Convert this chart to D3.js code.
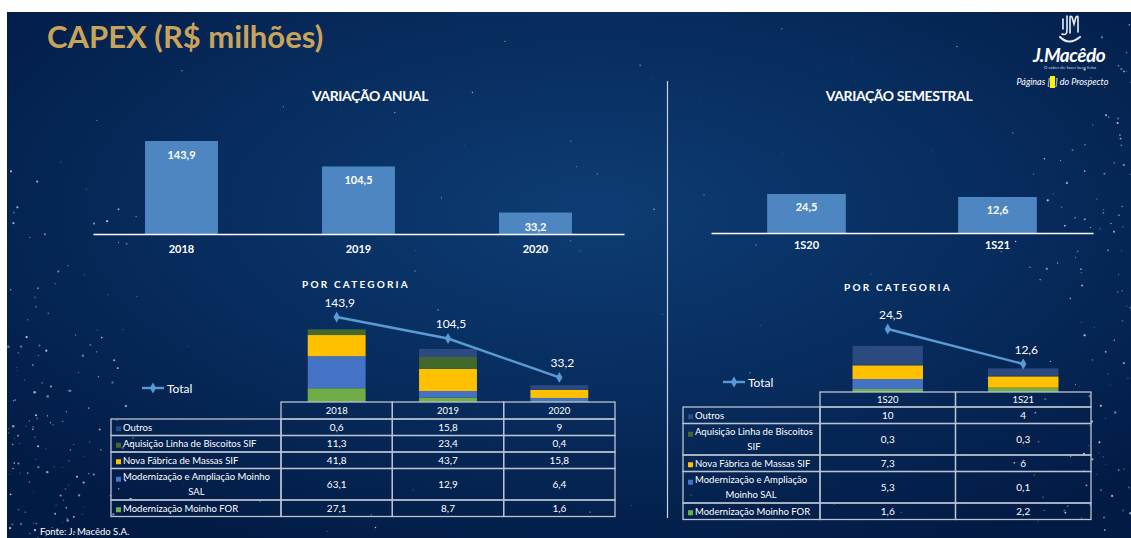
<!DOCTYPE html>
<html>
<head>
<meta charset="utf-8">
<script src="https://cdn.jsdelivr.net/npm/d3@7"></script>
<style>
  body { margin: 0; background: #fff; }
  svg { display: block; }
  text { font-family: Lato, "Open Sans", "Noto Sans", sans-serif; fill: #fff; }
</style>
</head>
<body>
<div id="chart"></div>
<script>
(function(){
    // data ================================================================
    const YEARS        = ['2018', '2019', '2020'];
    const YEAR_TOTALS  = [143.9, 104.5, 33.2];
    const SEMESTERS    = ['1S20', '1S21'];
    const SEM_TOTALS   = [24.5, 12.6];

    const CATEGORIES = ['Outros', 'Aquisição Linha de Biscoitos SIF', 'Nova Fábrica de Massas SIF',
                        'Modernização e Ampliação Moinho SAL', 'Modernização Moinho FOR'];
    const CAT_COLORS = ['#2a4a80', '#43682b', '#ffc000', '#4472c4', '#70ad47'];

    // rows = categories, columns = years / semesters
    const YEAR_VALUES = [[0.6, 15.8, 9], [11.3, 23.4, 0.4], [41.8, 43.7, 15.8], [63.1, 12.9, 6.4], [27.1, 8.7, 1.6]];
    const SEM_VALUES  = [[10, 4], [0.3, 0.3], [7.3, 6], [5.3, 0.1], [1.6, 2.2]];

    // label lines as they wrap in each table
    const YEAR_ROW_LABELS = [['Outros'], ['Aquisição Linha de Biscoitos SIF'], ['Nova Fábrica de Massas SIF'],
                             ['Modernização e Ampliação Moinho', 'SAL'], ['Modernização Moinho FOR']];
    const SEM_ROW_LABELS  = [['Outros'], ['Aquisição Linha de Biscoitos', 'SIF'], ['Nova Fábrica de Massas SIF'],
                             ['Modernização e Ampliação', 'Moinho SAL'], ['Modernização Moinho FOR']];

    // the semestral chart of the original does not start at zero
    const SEM_AXIS_MIN = -130;

    var WIDTH  = 1131,
        HEIGHT = 538;

    var BAR_COLOR  = '#4e86c1',
        LINE_COLOR = '#5b9bd5',
        GRID_COLOR = '#bcc3ce';

    var fmt = function(v){ return String(v).replace('.', ','); };

    var svg = d3.select('#chart').append('svg')
        .attr('width', WIDTH)
        .attr('height', HEIGHT);

    // background --------------------------------------------------------
    var grad = svg.append('defs').append('radialGradient')
        .attr('id', 'bg').attr('cx', '52%').attr('cy', '38%').attr('r', '70%');
    grad.append('stop').attr('offset', '0%').attr('stop-color', '#0d3c74');
    grad.append('stop').attr('offset', '55%').attr('stop-color', '#072b5c');
    grad.append('stop').attr('offset', '100%').attr('stop-color', '#021b45');

    svg.append('rect').attr('width', WIDTH).attr('height', HEIGHT).attr('fill', '#fff');
    svg.append('rect').attr('x', 7).attr('y', 12)
        .attr('width', WIDTH - 7).attr('height', HEIGHT - 12)
        .attr('fill', 'url(#bg)');

    // star dust (decoration only)
    var rnd = d3.randomLcg(11);
    var stars = d3.range(340).map(function(i){
        var r = rnd();
        if (i < 150) return { x: 8 + Math.pow(rnd(), 1.6) * 130, y: 150 + Math.sqrt(rnd()) * 388, r: 0.4 + r * 0.9 };
        if (i < 270) return { x: 985 + Math.sqrt(rnd()) * 146, y: 15 + rnd() * 520, r: 0.4 + r * 0.8 };
        return { x: 8 + rnd() * 1120, y: 15 + rnd() * 520, r: 0.3 + r * 0.5 };
    });
    svg.append('g').attr('class', 'stars')
        .selectAll('circle')
        .data(stars)
        .enter().append('circle')
        .attr('cx', function(d){ return d.x })
        .attr('cy', function(d){ return d.y })
        .attr('r', function(d){ return d.r })
        .attr('fill', '#dfe8f5')
        .attr('opacity', function(d, i){ return 0.35 + (i % 5) * 0.12 });

    // titles ------------------------------------------------------------
    svg.append('text')
        .attr('x', 47).attr('y', 48)
        .style('font-size', '31px').style('font-weight', 700)
        .style('fill', '#c9a35a')
        .text('CAPEX (R$ milhões)');

    svg.append('text').attr('x', 370).attr('y', 101)
        .attr('text-anchor', 'middle')
        .style('font-size', '14px').style('font-weight', 700).style('letter-spacing', '-0.4px')
        .text('VARIAÇÃO ANUAL');

    svg.append('text').attr('x', 899).attr('y', 101)
        .attr('text-anchor', 'middle')
        .style('font-size', '14px').style('font-weight', 700).style('letter-spacing', '-0.4px')
        .text('VARIAÇÃO SEMESTRAL');

    [[356, 288], [898, 291]].forEach(function(p){
        svg.append('text').attr('x', p[0]).attr('y', p[1])
            .attr('text-anchor', 'middle')
            .style('font-size', '10px').style('font-weight', 700).style('letter-spacing', '2.2px')
            .text('POR CATEGORIA');
    });

    svg.append('text').attr('x', 40).attr('y', 535)
        .style('font-size', '9.5px')
        .text('Fonte: J. Macêdo S.A.');

    // divider
    svg.append('line')
        .attr('x1', 667.5).attr('x2', 667.5).attr('y1', 81).attr('y2', 518)
        .attr('stroke', '#c9d3e2').attr('stroke-width', 1.2);

    // logo ---------------------------------------------------------------
    var logo = svg.append('g').attr('class', 'logo');
    var icon = logo.append('g').attr('transform', 'translate(1058,13)')
        .attr('fill', 'none').attr('stroke', '#e9eef6').attr('stroke-width', 1.6).attr('stroke-linecap', 'round');
    icon.append('path').attr('d', 'M9,3 L9,17 Q9,23 4,21');
    icon.append('path').attr('d', 'M12,20 L12,5 Q12,2 14,4 L16,11 L18,4 Q20,2 20,5 L20,19');
    icon.append('path').attr('d', 'M5,6 L5,16');
    icon.append('path').attr('d', 'M2,24 Q11,33 22,24').attr('stroke-width', 2);

    logo.append('text').attr('x', 1069).attr('y', 62)
        .attr('text-anchor', 'middle')
        .style('font-size', '19px').style('font-weight', 700).style('font-style', 'italic')
        .style('letter-spacing', '-0.5px')
        .text('J.Macêdo');
    logo.append('text').attr('x', 1070).attr('y', 69)
        .attr('text-anchor', 'middle')
        .style('font-size', '4.5px').style('fill', '#c6d2e4')
        .text('O saber de fazer bem feito');

    logo.append('rect').attr('x', 1050).attr('y', 76).attr('width', 5).attr('height', 12).attr('fill', '#fff200');
    logo.append('text').attr('x', 1050).attr('y', 85)
        .attr('text-anchor', 'end')
        .style('font-size', '9px').style('font-style', 'italic')
        .text('Páginas [');
    logo.append('text').attr('x', 1055).attr('y', 85)
        .style('font-size', '9px').style('font-style', 'italic')
        .text('] do Prospecto');

    // top bar charts -----------------------------------------------------
    function barChart(cats, totals, xRange, yDomain, yRange, labelDy, catY){
        var x = d3.scaleBand().domain(cats).range(xRange).paddingInner(0.588).paddingOuter(0.294);
        var y = d3.scaleLinear().domain(yDomain).range(yRange);
        var g = svg.append('g').attr('class', 'bars');

        g.selectAll('rect')
            .data(totals)
            .enter().append('rect')
            .attr('x', function(d, i){ return x(cats[i]) })
            .attr('width', x.bandwidth())
            .attr('y', function(d){ return y(d) })
            .attr('height', function(d){ return y(yDomain[0]) - y(d) })
            .attr('fill', BAR_COLOR);

        g.selectAll('text.val')
            .data(totals)
            .enter().append('text')
            .attr('class', 'val')
            .attr('x', function(d, i){ return x(cats[i]) + x.bandwidth() / 2 })
            .attr('y', function(d){ return y(d) + labelDy })
            .attr('text-anchor', 'middle')
            .style('font-size', '11px').style('font-weight', 700)
            .text(fmt);

        var axis = g.append('g')
            .attr('transform', 'translate(0,' + y(yDomain[0]) + ')')
            .call(d3.axisBottom(x).tickSize(0).tickPadding(catY));
        axis.select('.domain').attr('stroke', '#fff').attr('stroke-width', 1.6);
        axis.selectAll('text')
            .style('font-family', 'Lato, sans-serif')
            .style('font-size', '11px').style('font-weight', 700)
            .attr('fill', '#fff');
    }

    barChart(YEARS, YEAR_TOTALS, [93, 624], [0, 143.9], [234, 141], 18, 11);
    barChart(SEMESTERS, SEM_TOTALS, [711, 1093], [SEM_AXIS_MIN, 24.5], [233, 194], 17, 8);

    // por categoria: stacked bars, total line and data table --------------
    function categoryChart(cfg){
        var x = d3.scaleBand().domain(cfg.cats).range([cfg.colLeft, cfg.right]);
        var yBar = d3.scaleLinear().domain([0, d3.max(cfg.totals)]).range(cfg.barRange);
        var yLine = d3.scaleLinear().domain([0, d3.max(cfg.totals)]).range(cfg.lineRange);
        var barW = x.bandwidth() * 0.52;

        // stack: first table row on top, last at the bottom
        var rows = cfg.cats.map(function(c, j){
            var o = { cat: c };
            cfg.values.forEach(function(v, i){ o['k' + i] = v[j] });
            return o;
        });
        var keys = cfg.values.map(function(v, i){ return 'k' + i }).reverse();
        var series = d3.stack().keys(keys)(rows);

        var g = svg.append('g').attr('class', 'stack');
        g.selectAll('g')
            .data(series)
            .enter().append('g')
            .attr('fill', function(s){ return CAT_COLORS[+s.key.slice(1)] })
            .selectAll('rect')
            .data(function(s){ return s })
            .enter().append('rect')
            .attr('x', function(d){ return x(d.data.cat) + (x.bandwidth() - barW) / 2 })
            .attr('width', barW)
            .attr('y', function(d){ return yBar(d[1]) })
            .attr('height', function(d){ return yBar(d[0]) - yBar(d[1]) });

        // total line
        var line = d3.line()
            .x(function(d, i){ return x(cfg.cats[i]) + x.bandwidth() / 2 })
            .y(function(d){ return yLine(d) });
        g.append('path')
            .datum(cfg.totals)
            .attr('d', line)
            .attr('fill', 'none')
            .attr('stroke', LINE_COLOR)
            .attr('stroke-width', 2.4);
        g.selectAll('path.mark')
            .data(cfg.totals)
            .enter().append('path')
            .attr('class', 'mark')
            .attr('d', d3.symbol(d3.symbolDiamond, 34))
            .attr('transform', function(d, i){
                return 'translate(' + (x(cfg.cats[i]) + x.bandwidth() / 2) + ',' + yLine(d) + ')';
            })
            .attr('fill', LINE_COLOR);
        g.selectAll('text.tot')
            .data(cfg.totals)
            .enter().append('text')
            .attr('class', 'tot')
            .attr('x', function(d, i){ return x(cfg.cats[i]) + x.bandwidth() / 2 + 3 })
            .attr('y', function(d){ return yLine(d) - 10 })
            .attr('text-anchor', 'middle')
            .style('font-size', '12px')
            .text(fmt);

        // legend
        var lg = svg.append('g').attr('transform', 'translate(' + cfg.legend[0] + ',' + cfg.legend[1] + ')');
        lg.append('line').attr('x1', 0).attr('x2', 22)
            .attr('stroke', LINE_COLOR).attr('stroke-width', 2.4);
        lg.append('path').attr('d', d3.symbol(d3.symbolDiamond, 34)).attr('transform', 'translate(11,0)')
            .attr('fill', LINE_COLOR);
        lg.append('text').attr('x', 25).attr('y', 4.5)
            .style('font-size', '12px')
            .text('Total');

        // table
        var t = svg.append('g').attr('class', 'table');
        var top = cfg.top + cfg.headerH;
        var rowBox = cfg.labels.map(function(lines){
            var h = 16.5 + 15 * (lines.length - 1);
            var b = { y: top, h: h, lines: lines };
            top += h;
            return b;
        });

        t.selectAll('rect.head')
            .data(cfg.cats)
            .enter().append('rect')
            .attr('x', function(d){ return x(d) })
            .attr('y', cfg.top)
            .attr('width', x.bandwidth())
            .attr('height', cfg.headerH);
        t.selectAll('text.head')
            .data(cfg.cats)
            .enter().append('text')
            .attr('class', 'head')
            .attr('x', function(d){ return x(d) + x.bandwidth() / 2 })
            .attr('y', cfg.top + cfg.headerH / 2 + 3.5)
            .attr('text-anchor', 'middle')
            .style('font-size', '9.5px')
            .text(function(d){ return d });

        var rowG = t.selectAll('g.row')
            .data(rowBox)
            .enter().append('g')
            .attr('class', 'row');

        rowG.append('rect')
            .attr('x', cfg.left).attr('y', function(d){ return d.y })
            .attr('width', cfg.colLeft - cfg.left).attr('height', function(d){ return d.h });
        rowG.selectAll('rect.cell')
            .data(function(d){ return cfg.cats.map(function(c){ return { c: c, y: d.y, h: d.h } }) })
            .enter().append('rect')
            .attr('class', 'cell')
            .attr('x', function(d){ return x(d.c) }).attr('y', function(d){ return d.y })
            .attr('width', x.bandwidth()).attr('height', function(d){ return d.h });

        t.selectAll('rect')
            .attr('fill', 'none')
            .attr('stroke', GRID_COLOR)
            .attr('stroke-width', 1.3);

        // legend keys
        rowG.append('rect')
            .attr('x', cfg.left + 5)
            .attr('y', function(d){
                var c = d.lines.length > 1 ? d.y + d.h / 2 - 7.5 : d.y + d.h / 2;
                return c - 2 + (d.lines.length > 1 ? 2 : 1);
            })
            .attr('width', 5).attr('height', 5)
            .attr('fill', function(d, i){ return CAT_COLORS[i] });

        // labels: wrapped lines are centred on the first line
        rowG.each(function(d){
            var sel = d3.select(this);
            var x0 = cfg.left + 12;
            var first = sel.append('text')
                .attr('x', x0)
                .attr('y', d.y + d.h / 2 - 7.5 * (d.lines.length - 1) + 3.5)
                .style('font-size', '9.5px')
                .text(d.lines[0]);
            if (d.lines.length > 1) {
                var w = first.node().getComputedTextLength();
                first.attr('x', x0 + w / 2).attr('text-anchor', 'middle');
                d.lines.slice(1).forEach(function(l, k){
                    sel.append('text')
                        .attr('x', x0 + w / 2)
                        .attr('y', d.y + d.h / 2 - 7.5 + 15 * (k + 1) + 3.5)
                        .attr('text-anchor', 'middle')
                        .style('font-size', '9.5px')
                        .text(l);
                });
            }
        });

        // values
        rowG.each(function(d, i){
            d3.select(this).selectAll('text.v')
                .data(cfg.values[i])
                .enter().append('text')
                .attr('class', 'v')
                .attr('x', function(v, j){ return x(cfg.cats[j]) + x.bandwidth() / 2 })
                .attr('y', d.y + d.h / 2 + 3.5)
                .attr('text-anchor', 'middle')
                .style('font-size', '10px')
                .text(fmt);
        });
    }

    categoryChart({
        cats: YEARS, totals: YEAR_TOTALS, values: YEAR_VALUES, labels: YEAR_ROW_LABELS,
        left: 111, colLeft: 281, right: 615, top: 402, headerH: 17,
        barRange: [402, 329], lineRange: [395.5, 317], legend: [142, 388]
    });
    categoryChart({
        cats: SEMESTERS, totals: SEM_TOTALS, values: SEM_VALUES, labels: SEM_ROW_LABELS,
        left: 683, colLeft: 820, right: 1091, top: 392, headerH: 15,
        barRange: [392, 346], lineRange: [401, 329], legend: [723, 382]
    });

})();
</script>
</body>
</html>
